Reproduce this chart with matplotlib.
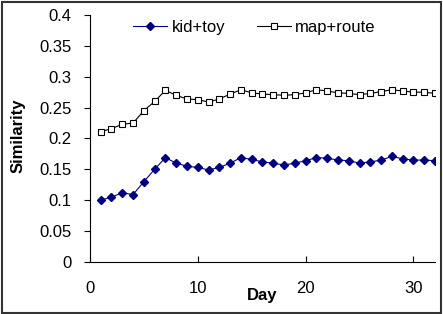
import matplotlib
matplotlib.use("Agg")
import matplotlib.pyplot as plt
from matplotlib.patches import Rectangle

plt.rcParams["font.family"] = ["Liberation Sans", "DejaVu Sans"]

days = list(range(1, 33))
kid_toy = [0.100, 0.105, 0.112, 0.109, 0.130, 0.150, 0.169, 0.160, 0.155, 0.153,
           0.149, 0.153, 0.160, 0.169, 0.166, 0.162, 0.160, 0.157, 0.160, 0.164,
           0.169, 0.168, 0.165, 0.164, 0.160, 0.162, 0.165, 0.171, 0.167, 0.165,
           0.165, 0.164]
map_route = [0.211, 0.216, 0.223, 0.225, 0.245, 0.260, 0.278, 0.270, 0.264, 0.263,
             0.259, 0.264, 0.272, 0.279, 0.274, 0.272, 0.271, 0.270, 0.271, 0.274,
             0.279, 0.277, 0.274, 0.273, 0.271, 0.273, 0.276, 0.279, 0.277, 0.275,
             0.275, 0.273]
yticks = [0, 0.05, 0.1, 0.15, 0.2, 0.25, 0.3, 0.35, 0.4]
ytick_labels = ["0", "0.05", "0.1", "0.15", "0.2", "0.25", "0.3", "0.35", "0.4"]
xticks = [0, 10, 20, 30]

FS = 12
fig = plt.figure(figsize=(4.43, 3.14), dpi=100)
ax = fig.add_axes([0.203, 0.166, 0.779, 0.786])

ax.plot(days, kid_toy, color="#000080", lw=0.8, marker="D", ms=4.5,
        mfc="#000080", mec="#000080", label="kid+toy")
ax.plot(days, map_route, color="black", lw=0.8, marker="s", ms=4.6,
        mfc="white", mec="black", mew=0.8, label="map+route")

ax.set_xlim(0, 32)
ax.set_ylim(0, 0.4)
ax.set_yticks(yticks)
ax.set_yticklabels(ytick_labels)
ax.set_xticks(xticks)
for s in ("top", "right"):
    ax.spines[s].set_visible(False)
for s in ("left", "bottom"):
    ax.spines[s].set_linewidth(0.8)
ax.tick_params(axis="y", direction="out", length=4, width=0.8, labelsize=FS, pad=9)
ax.tick_params(axis="x", direction="in", length=4, width=0.8, labelsize=FS, pad=14)

ax.set_xlabel("Day", fontsize=FS, fontweight="bold")
ax.xaxis.set_label_coords(0.5, -0.138)
ax.xaxis.label.set_va("center")
ax.set_ylabel("Similarity", fontsize=FS, fontweight="bold")
ax.yaxis.set_label_coords(-0.209, 0.51)
ax.yaxis.label.set_va("center")

ax.legend(loc="upper left", bbox_to_anchor=(0.125, 0.98), ncol=2, frameon=False,
          fontsize=FS, handlelength=2.05, columnspacing=1.9, handletextpad=0.25,
          borderpad=0, borderaxespad=0)

fig.patches.append(Rectangle((0.004, 0.004), 0.992, 0.99, transform=fig.transFigure,
                             fill=False, ec="#333333", lw=1.5))

fig.savefig("out.png", dpi=100)
